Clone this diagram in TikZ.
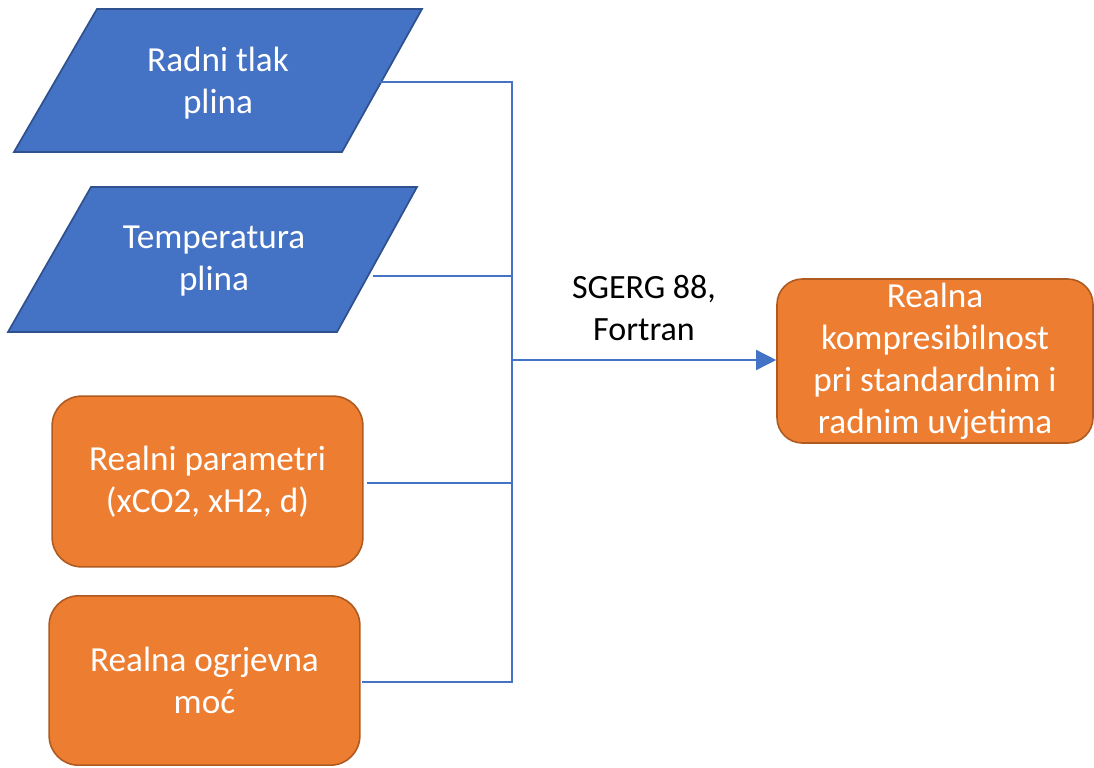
\documentclass[tikz,border=0pt]{standalone}
\usepackage{fontspec}
\setmainfont{Carlito}
\usetikzlibrary{arrows.meta}
\definecolor{bluefill}{HTML}{4472C4}
\definecolor{blueedge}{HTML}{2F528F}
\definecolor{orangefill}{HTML}{ED7D31}
\definecolor{orangeedge}{HTML}{AE5A21}
\definecolor{conncol}{HTML}{4472C4}
\begin{document}
\begin{tikzpicture}[x=0.75pt,y=-0.75pt,
  txt/.style={font=\fontsize{25.5}{31.5}\selectfont, align=center, inner sep=0pt},
  intext/.style={txt, font=\fontsize{26.4}{31.5}\selectfont, text=white},
  inshape/.style={fill=bluefill, draw=blueedge, line width=1.3pt, line join=miter},
  obox/.style={rectangle, rounded corners=22pt, fill=orangefill, draw=orangeedge, line width=1.2pt, intext},
  conn/.style={draw=conncol, line width=1.1pt},
  ]
\useasboundingbox (0,0) rectangle (1094,767);

% input parallelograms
\draw[inshape] (97,9) -- (422,9) -- (342,152) -- (14,152) -- cycle;
\node[intext] (tlak) at (218,83) {Radni tlak\\plina};
\draw[inshape] (91,187) -- (417,187) -- (337,332) -- (8,332) -- cycle;
\node[intext] (temp) at (214,261) {Temperatura\\plina};

% orange boxes
\node[obox, minimum width=233pt, minimum height=128pt] (param) at (207.5,481.5) {Realni parametri\\(xCO2, xH2, d)};
\node[obox, minimum width=233pt, minimum height=127pt] (ogrj) at (204.5,680.5) {Realna ogrjevna\\moć};
\node[obox, rounded corners=19pt, minimum width=237pt, minimum height=123pt] (komp) at (935,361) {Realna\\kompresibilnost\\pri standardnim i\\radnim uvjetima};

% label
\node[txt, text=black] (lab) at (644,308) {SGERG 88,\\Fortran};

% connector coordinates
\coordinate (c1) at (380,82);
\coordinate (c2) at (373,276);
\coordinate (c3) at (367,483);
\coordinate (c4) at (362,682);
\coordinate (j1) at (512,82);
\coordinate (j4) at (512,682);
\coordinate (jm) at (512,360);

\draw[conn] (c1) -- (j1) -- (j4) -- (c4);
\draw[conn] (c2) -- (c2 -| j1);
\draw[conn] (c3) -- (c3 -| j1);
\draw[conn, -{Triangle[length=15pt,width=15pt]}] (jm) -- (jm -| komp.west);
\end{tikzpicture}
\end{document}
